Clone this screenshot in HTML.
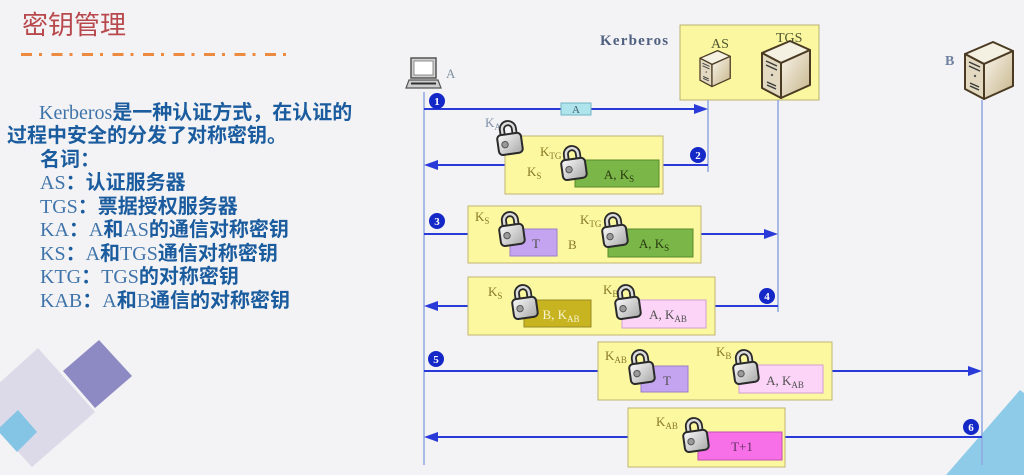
<!DOCTYPE html>
<html><head><meta charset="utf-8">
<style>
html,body{margin:0;padding:0;}
body{width:1024px;height:475px;background:#f3f3f5;position:relative;overflow:hidden;}
.t{position:absolute;white-space:nowrap;font-family:"Liberation Serif","Noto Sans CJK SC",serif;font-size:20px;line-height:24px;color:#1b5c9e;font-weight:bold;}
.t .c{font-family:"Noto Sans CJK SC","WenQuanYi Zen Hei",sans-serif;}
.t .l{font-family:"Liberation Serif",serif;font-weight:normal;color:#3f74aa;}
.title{position:absolute;left:22px;top:11px;font-family:"Noto Sans CJK SC",sans-serif;font-size:26px;line-height:26px;color:#b8484c;white-space:nowrap;}
svg{position:absolute;left:0;top:0;}
</style></head>
<body>
<svg width="1024" height="475" viewBox="0 0 1024 475" xmlns="http://www.w3.org/2000/svg">
<defs>
 <linearGradient id="lg" x1="0" y1="0" x2="1" y2="1">
  <stop offset="0" stop-color="#fbfbfb"/><stop offset="1" stop-color="#a8a8a8"/>
 </linearGradient>
 <linearGradient id="sg" x1="0" y1="0" x2="1" y2="1">
  <stop offset="0" stop-color="#faf6ec"/><stop offset="1" stop-color="#c6b48a"/>
 </linearGradient>
 <g id="lock">
  <path d="M8,17 V10 a6,6 0 0 1 12,0 V17" fill="none" stroke="#2a2a2a" stroke-width="6" stroke-linecap="round"/>
  <path d="M8,17 V10 a6,6 0 0 1 12,0 V17" fill="none" stroke="#dcdcdc" stroke-width="2.4"/>
  <rect x="2" y="15" width="24" height="20" rx="4" fill="url(#lg)" stroke="#2a2a2a" stroke-width="2"/>
  <circle cx="9" cy="25" r="3.2" fill="#9a9a9a" stroke="#555" stroke-width="1"/>
 </g>
 <g id="srv" stroke="#4a3a22" stroke-width="2" stroke-linejoin="round">
  <polygon points="0,13 28,1 48,10 19,23" fill="#f4f0e2"/>
  <polygon points="0,13 19,23 19,58 0,48" fill="#e2d9c0"/>
  <polygon points="19,23 48,10 48,45 19,58" fill="url(#sg)"/>
  <g stroke="#3a3a3a" stroke-width="1.5">
   <line x1="4" y1="21" x2="15" y2="26"/>
   <line x1="4" y1="25" x2="15" y2="30"/>
   <line x1="5" y1="42" x2="14" y2="46"/>
   <line x1="5" y1="45" x2="14" y2="49"/>
  </g>
  <circle cx="10" cy="35" r="1.2" fill="#555" stroke="none"/>
 </g>
</defs>

<!-- decorative squares -->
<polygon points="38,348 95,412 32,467 -25,405" fill="#dcdae8"/>
<polygon points="99,340 132,376 95,408 63,371" fill="#8d89c2"/>
<polygon points="18,410 37,432 17,452 -3,430" fill="#84c4e4"/>
<polygon points="946,475 1020,390 1024,393 1024,475" fill="#8ecbe8"/>

<!-- title dashed line -->
<line x1="21" y1="54.5" x2="290" y2="54.5" stroke="#ec8a40" stroke-width="3" stroke-dasharray="11 7 3 9.5"/>

<!-- Kerberos box -->
<text x="600" y="45" font-family="Liberation Serif" font-weight="bold" font-size="15" letter-spacing="1.2" fill="#506080">Kerberos</text>
<rect x="680" y="25" width="139" height="75" fill="#fbf7a0" stroke="#b8b070" stroke-width="1"/>
<text x="711" y="48" font-family="Liberation Serif" font-size="14" fill="#505830">AS</text>
<text x="776" y="42" font-family="Liberation Serif" font-size="14" fill="#505830">TGS</text>
<use href="#srv" transform="translate(700,50) scale(0.63)"/>
<use href="#srv" transform="translate(762,40)"/>
<use href="#srv" transform="translate(965,41)"/>
<text x="945" y="65" font-family="Liberation Serif" font-weight="bold" font-size="14" fill="#7080a0">B</text>

<!-- laptop -->
<rect x="411" y="58" width="25" height="20" fill="#cfcfcf" stroke="#555" stroke-width="1.5"/>
<rect x="414" y="61" width="19" height="14" fill="#fff" stroke="#777" stroke-width="0.8"/>
<polygon points="409,80 438,80 441,88 406,88" fill="#cfcfcf" stroke="#555" stroke-width="1.2"/>
<line x1="411" y1="83.5" x2="436" y2="83.5" stroke="#333" stroke-width="2"/>
<text x="446" y="78" font-family="Liberation Serif" font-size="13" fill="#8090a0">A</text>

<!-- lifelines -->
<g stroke="#8ea8e0" stroke-width="1.5">
 <line x1="424" y1="92" x2="424" y2="465"/>
 <line x1="708" y1="100" x2="708" y2="172"/>
 <line x1="778" y1="100" x2="778" y2="312"/>
 <line x1="982" y1="100" x2="982" y2="465"/>
</g>

<!-- arrows -->
<g stroke="#2a3ad8" stroke-width="2">
 <line x1="424" y1="109" x2="696" y2="109"/>
 <line x1="436" y1="165" x2="708" y2="165"/>
 <line x1="424" y1="234" x2="766" y2="234"/>
 <line x1="436" y1="306" x2="778" y2="306"/>
 <line x1="424" y1="371" x2="970" y2="371"/>
 <line x1="436" y1="437" x2="982" y2="437"/>
</g>
<g fill="#2a3ad8">
 <polygon points="708,109 694,104 694,114"/>
 <polygon points="424,165 438,160 438,170"/>
 <polygon points="778,234 764,229 764,239"/>
 <polygon points="424,306 438,301 438,311"/>
 <polygon points="982,371 968,366 968,376"/>
 <polygon points="424,437 438,432 438,442"/>
</g>
<rect x="561" y="103" width="30" height="12" fill="#b0e4ec" stroke="#70b4c4" stroke-width="1"/>
<text x="576" y="113" text-anchor="middle" font-family="Liberation Serif" font-size="11" fill="#406070">A</text>

<!-- number circles -->
<g font-family="Liberation Serif" font-size="11" font-weight="bold" fill="#fff" text-anchor="middle">
 <circle cx="437" cy="101" r="8" fill="#1428c8"/><text x="437" y="105">1</text>
 <circle cx="698" cy="155" r="8" fill="#1428c8"/><text x="698" y="159">2</text>
 <circle cx="437" cy="221" r="8" fill="#1428c8"/><text x="437" y="225">3</text>
 <circle cx="767" cy="296" r="8" fill="#1428c8"/><text x="767" y="300">4</text>
 <circle cx="436" cy="359" r="8" fill="#1428c8"/><text x="436" y="363">5</text>
 <circle cx="971" cy="427" r="8" fill="#1428c8"/><text x="971" y="431">6</text>
</g>

<g font-family="Liberation Serif" font-size="13">
<!-- box 2 -->
<rect x="505" y="136" width="158" height="58" fill="#fbf8a0" stroke="#c0b470" stroke-width="1"/>
<text x="485" y="127" fill="#8090a8">K<tspan font-size="9" dy="3">A</tspan></text>
<use href="#lock" transform="translate(495,119) rotate(-8 14 18)"/>
<text x="540" y="156" fill="#8a7a2a">K<tspan font-size="9" dy="3">TG</tspan></text>
<text x="527" y="176" fill="#8a7a2a">K<tspan font-size="9" dy="3">S</tspan></text>
<rect x="575" y="160" width="84" height="27" fill="#7ab648" stroke="#5a8a2a" stroke-width="1"/>
<use href="#lock" transform="translate(559,144) rotate(-8 14 18)"/>
<text x="619" y="179" text-anchor="middle" fill="#2a3a10">A, K<tspan font-size="9" dy="3">S</tspan></text>

<!-- box 3 -->
<rect x="468" y="206" width="233" height="57" fill="#fbf8a0" stroke="#c0b470" stroke-width="1"/>
<text x="475" y="221" fill="#8a7a2a">K<tspan font-size="9" dy="3">S</tspan></text>
<rect x="510" y="229" width="47" height="27" fill="#c4a4f0" stroke="#9a80c8" stroke-width="1"/>
<use href="#lock" transform="translate(497,210) rotate(-8 14 18)"/>
<text x="536" y="248" text-anchor="middle" fill="#505050">T</text>
<text x="568" y="249" fill="#8a7a2a">B</text>
<text x="580" y="224" fill="#8a7a2a">K<tspan font-size="9" dy="3">TG</tspan></text>
<rect x="608" y="229" width="85" height="28" fill="#7ab648" stroke="#5a8a2a" stroke-width="1"/>
<use href="#lock" transform="translate(600,211) rotate(-8 14 18)"/>
<text x="654" y="248" text-anchor="middle" fill="#2a3a10">A, K<tspan font-size="9" dy="3">S</tspan></text>

<!-- box 4 -->
<rect x="468" y="277" width="247" height="58" fill="#fbf8a0" stroke="#c0b470" stroke-width="1"/>
<text x="488" y="296" fill="#8a7a2a">K<tspan font-size="9" dy="3">S</tspan></text>
<rect x="524" y="300" width="67" height="27" fill="#c8b420" stroke="#9a8a20" stroke-width="1"/>
<use href="#lock" transform="translate(510,283) rotate(-8 14 18)"/>
<text x="561" y="319" text-anchor="middle" fill="#f8f4d0">B, K<tspan font-size="9" dy="3">AB</tspan></text>
<text x="603" y="294" fill="#8a7a2a">K<tspan font-size="9" dy="3">B</tspan></text>
<rect x="622" y="300" width="84" height="28" fill="#fcd4f8" stroke="#d0a0d0" stroke-width="1"/>
<use href="#lock" transform="translate(613,283) rotate(-8 14 18)"/>
<text x="668" y="319" text-anchor="middle" fill="#505050">A, K<tspan font-size="9" dy="3">AB</tspan></text>

<!-- box 5 -->
<rect x="598" y="342" width="234" height="58" fill="#fbf8a0" stroke="#c0b470" stroke-width="1"/>
<text x="605" y="360" fill="#8a7a2a">K<tspan font-size="9" dy="3">AB</tspan></text>
<rect x="641" y="366" width="47" height="26" fill="#c4a4f0" stroke="#9a80c8" stroke-width="1"/>
<use href="#lock" transform="translate(627,348) rotate(-8 14 18)"/>
<text x="667" y="385" text-anchor="middle" fill="#505050">T</text>
<text x="716" y="356" fill="#8a7a2a">K<tspan font-size="9" dy="3">B</tspan></text>
<rect x="739" y="365" width="84" height="28" fill="#fcd4f8" stroke="#d0a0d0" stroke-width="1"/>
<use href="#lock" transform="translate(731,348) rotate(-8 14 18)"/>
<text x="785" y="385" text-anchor="middle" fill="#505050">A, K<tspan font-size="9" dy="3">AB</tspan></text>

<!-- box 6 -->
<rect x="628" y="408" width="157" height="59" fill="#fbf8a0" stroke="#c0b470" stroke-width="1"/>
<text x="656" y="426" fill="#8a7a2a">K<tspan font-size="9" dy="3">AB</tspan></text>
<rect x="698" y="432" width="84" height="28" fill="#f870e8" stroke="#c050b0" stroke-width="1"/>
<use href="#lock" transform="translate(681,416) rotate(-8 14 18)"/>
<text x="742" y="451" text-anchor="middle" fill="#603060">T+1</text>
</g>
</svg>

<div class="title">密钥管理</div>
<div class="t" style="left:39px;top:99px;"><span class="l">Kerberos</span><span class="c">是一种认证方式，在认证的</span></div>
<div class="t" style="left:7px;top:122px;"><span class="c">过程中安全的分发了对称密钥。</span></div>
<div class="t" style="left:40px;top:146px;"><span class="c">名词：</span></div>
<div class="t" style="left:40px;top:169px;"><span class="l">AS</span><span class="c">：认证服务器</span></div>
<div class="t" style="left:40px;top:193px;"><span class="l">TGS</span><span class="c">：票据授权服务器</span></div>
<div class="t" style="left:40px;top:216px;"><span class="l">KA</span><span class="c">：</span><span class="l">A</span><span class="c">和</span><span class="l">AS</span><span class="c">的通信对称密钥</span></div>
<div class="t" style="left:40px;top:240px;"><span class="l">KS</span><span class="c">：</span><span class="l">A</span><span class="c">和</span><span class="l">TGS</span><span class="c">通信对称密钥</span></div>
<div class="t" style="left:40px;top:263px;"><span class="l">KTG</span><span class="c">：</span><span class="l">TGS</span><span class="c">的对称密钥</span></div>
<div class="t" style="left:40px;top:287px;"><span class="l">KAB</span><span class="c">：</span><span class="l">A</span><span class="c">和</span><span class="l">B</span><span class="c">通信的对称密钥</span></div>
</body></html>
